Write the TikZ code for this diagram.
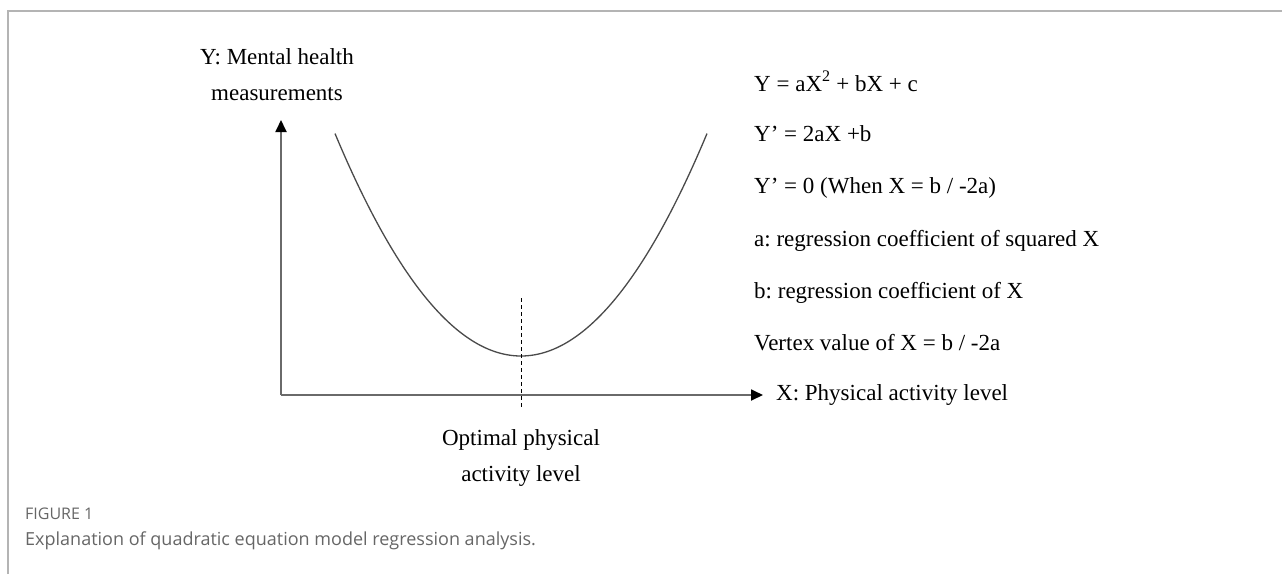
\documentclass[tikz,border=0pt]{standalone}
\usepackage{fontspec}
\setmainfont{Liberation Serif}
\newfontfamily\capfont{Open Sans}
\usetikzlibrary{arrows.meta}
\frenchspacing
\definecolor{framegray}{HTML}{B4B4B4}
\definecolor{axisgray}{HTML}{6A6A6A}
\definecolor{curvegray}{HTML}{4A4A4A}
\definecolor{capgray}{HTML}{666666}
\tikzset{
  axisline/.style={draw=axisgray, line width=1.8pt, -{Triangle[length=12pt,width=11pt,fill=black,color=black]}},
  txt/.style={font=\fontsize{23}{27}\selectfont\frenchspacing, inner sep=0pt, anchor=base west},
  ctxt/.style={font=\fontsize{23}{36}\selectfont\frenchspacing, inner sep=0pt, align=center},
  captitle/.style={font=\capfont\fontsize{16}{19}\selectfont, text=capgray, inner sep=0pt, anchor=base west},
  captext/.style={font=\capfont\fontsize{18}{22}\selectfont, text=capgray, inner sep=0pt, anchor=base west},
}
\begin{document}
\begin{tikzpicture}[x=1pt,y=-1pt]
\useasboundingbox (0,0) rectangle (1282,574);
% frame
\draw[framegray, line width=2pt] (8,574) -- (8,11) -- (1282,11);
% axes
\coordinate (O) at (281,395);
\coordinate (ytip) at (281,120);
\coordinate (xtip) at (763,395);
\draw[axisline] (O) -- (ytip);
\draw[axisline] (O) -- (xtip);
% parabola
\draw[curvegray, line width=1.3pt] plot[domain=-1.86:1.86, samples=80, smooth, variable=\t] ({521+100*\t},{356-64.3*\t*\t});
% dashed vertical
\coordinate (dtop) at (521,298);
\coordinate (dbot) at (521,409);
\draw[black, line width=0.9pt, dash pattern=on 4pt off 3pt] (dtop) -- (dbot);
% labels
\node[ctxt, anchor=center] (ylab) at (277,75) {Y: Mental health\\measurements};
\node[txt] (xlab) at (776,400) {X: Physical activity level};
\node[ctxt, anchor=center] (opt) at (521,458) {Optimal physical\\activity level};
% equations
\node[txt] (e1) at (754,91) {Y = aX\textsuperscript{2} + bX + c};
\node[txt] (e2) at (754,141) {Y’ = 2aX +b};
\node[txt] (e3) at (754,193) {Y’ = 0 (When X = b / -2a)};
\node[txt] (e4) at (754,246) {a: regression coefficient of squared X};
\node[txt] (e5) at (754,298) {b: regression coefficient of X};
\node[txt] (e6) at (754,350) {Vertex value of X = b / -2a};
% caption
\node[captitle] (fig) at (25,519) {FIGURE 1};
\node[captext] (cap) at (25,545) {Explanation of quadratic equation model regression analysis.};
\end{tikzpicture}
\end{document}
